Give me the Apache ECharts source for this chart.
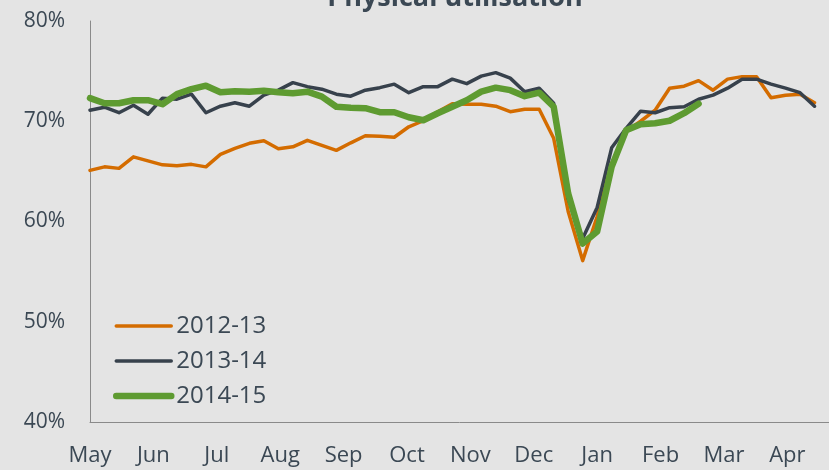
<!DOCTYPE html>
<html>
<head>
<meta charset="utf-8">
<script src="https://cdn.jsdelivr.net/npm/echarts@6/dist/echarts.min.js"></script>
<style>
  html, body { margin: 0; padding: 0; background: #e4e4e4; }
  #main { width: 829px; height: 470px; }
</style>
</head>
<body>
<div id="main"></div>
<script>
// month labels, spread evenly along the weekly axis
const months = ['May', 'Jun', 'Jul', 'Aug', 'Sep', 'Oct', 'Nov', 'Dec', 'Jan', 'Feb', 'Mar', 'Apr'];
const seriesNames = ['2012-13', '2013-14', '2014-15'];

// weekly physical utilisation (%), week 0 = start of May
const util1213 = [
  65.1, 65.45, 65.3, 66.45, 66.05, 65.65, 65.55, 65.7, 65.45, 66.7,
  67.3, 67.8, 68.05, 67.25, 67.45, 68.1, 67.6, 67.1, 67.85, 68.55,
  68.5, 68.4, 69.45, 70.05, 70.95, 71.75, 71.7, 71.7, 71.5, 70.95,
  71.2, 71.2, 68.3, 61.0, 56.1, 60.5, 65.8, 69.0, 70.0, 71.1,
  73.3, 73.5, 74.05, 73.1, 74.2, 74.45, 74.45, 72.35, 72.6, 72.7,
  71.85
];
const util1314 = [
  71.1, 71.4, 70.85, 71.6, 70.7, 72.3, 72.2, 72.7, 70.85, 71.5,
  71.85, 71.5, 72.6, 73.1, 73.85, 73.45, 73.2, 72.7, 72.5, 73.1,
  73.35, 73.7, 72.85, 73.45, 73.45, 74.2, 73.75, 74.5, 74.85, 74.3,
  72.95, 73.3, 71.8, 62.3, 58.3, 61.4, 67.35, 69.3, 71.0, 70.85,
  71.35, 71.45, 72.2, 72.6, 73.3, 74.2, 74.2, 73.7, 73.3, 72.85,
  71.5
];
const util1415 = [
  72.3, 71.8, 71.8, 72.1, 72.1, 71.7, 72.7, 73.2, 73.55, 72.9,
  73.0, 72.95, 73.05, 72.9, 72.8, 72.95, 72.45, 71.45, 71.35, 71.3,
  70.9, 70.9, 70.4, 70.1, 70.8, 71.45, 72.1, 72.95, 73.35, 73.1,
  72.5, 72.85, 71.45, 62.8, 57.8, 59.0, 65.45, 69.1, 69.7, 69.8,
  70.05, 70.8, 71.75
];

const colors = ['#d46c00', '#37414c', '#5e9b31'];
const widths = [3.5, 3.5, 6.5];
const txt = '#3b4854';
const monthStep = 4.375; // weeks between month labels

function toPoints(arr) {
  return arr.map(function (v, i) { return [i, v]; });
}

var myChart = echarts.init(document.getElementById('main'));
var option = {
  backgroundColor: '#e4e4e4',
  animation: false,
  title: {
    text: 'Physical utilisation',
    left: 455,
    textAlign: 'center',
    top: -15,
    padding: 0,
    textStyle: { fontFamily: 'Open Sans', fontWeight: 'bold', fontSize: 27, color: txt }
  },
  grid: { left: 90, right: 0, top: 21, bottom: 48 },
  legend: {
    orient: 'vertical',
    left: 113,
    top: 314,
    padding: 0,
    itemWidth: 55,
    itemHeight: 10,
    itemGap: 11,
    itemStyle: { opacity: 0 },
    textStyle: { fontFamily: 'Open Sans', fontSize: 24, color: txt },
    data: seriesNames.map(function (n, i) {
      return { name: n, lineStyle: { width: widths[i], cap: 'round' } };
    })
  },
  xAxis: {
    type: 'value',
    min: 0,
    max: 51,
    interval: monthStep,
    axisLine: { show: true, lineStyle: { color: '#8a8a8a', width: 1 } },
    axisTick: { show: false },
    splitLine: { show: false },
    axisLabel: {
      margin: 23,
      showMaxLabel: false,
      fontFamily: 'Open Sans',
      fontSize: 22,
      color: txt,
      formatter: function (v) {
        const k = v / monthStep;
        return Math.abs(k - Math.round(k)) < 1e-6 ? (months[Math.round(k)] || '') : '';
      }
    }
  },
  yAxis: {
    type: 'value',
    min: 40,
    max: 80,
    interval: 10,
    axisLine: { show: true, lineStyle: { color: '#8a8a8a', width: 1 } },
    axisTick: { show: false },
    splitLine: { show: false },
    axisLabel: {
      margin: 25,
      fontFamily: 'Open Sans',
      fontSize: 21,
      color: txt,
      formatter: '{value}%'
    }
  },
  series: [util1213, util1314, util1415].map(function (arr, i) {
    return {
      name: seriesNames[i],
      type: 'line',
      data: toPoints(arr),
      symbol: 'none',
      color: colors[i],
      lineStyle: { width: widths[i], color: colors[i], join: 'round', cap: 'round' },
      z: 2 + i
    };
  })
};
myChart.setOption(option);
</script>
</body>
</html>
